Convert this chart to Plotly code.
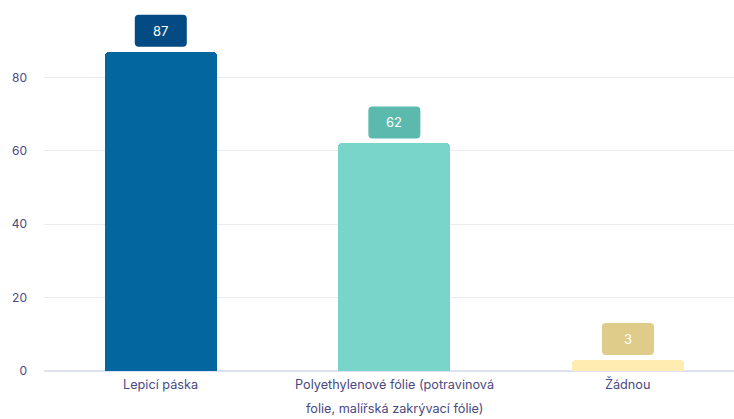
import plotly.graph_objects as go

categories = ["Lepicí páska", "Polyethylenové fólie (potravinová folie, malířská zakrývací fólie)", "Žádnou"]
label_lines = [["Lepicí páska"], ["Polyethylenové fólie (potravinová", "folie, malířská zakrývací fólie)"], ["Žádnou"]]
values = [87, 62, 3]
bar_colors = ["#03669f", "#79d5ca", "#feecb0"]
box_colors = ["#034b82", "#5bb9ad", "#dfcc8a"]
y_ticks = [0, 20, 40, 60, 80]

FONT = "Inter"
TXT = "#4a4a80"

xs = list(range(len(categories)))
fig = go.Figure()
fig.add_trace(go.Bar(
    x=xs, y=values, width=0.48,
    marker=dict(color=bar_colors, line=dict(width=0), cornerradius=4),
    hoverinfo="skip",
))

shapes = []
annotations = []
w, b, t, r = 26, 5, 37, 4
path = (f"M {-w+r} {b} L {w-r} {b} Q {w} {b} {w} {b+r} L {w} {t-r} Q {w} {t} {w-r} {t} "
        f"L {-w+r} {t} Q {-w} {t} {-w} {t-r} L {-w} {b+r} Q {-w} {b} {-w+r} {b} Z")
for i, v in enumerate(values):
    shapes.append(dict(type="path", xref="x", yref="y", xsizemode="pixel", ysizemode="pixel",
                       xanchor=i, yanchor=v, path=path, fillcolor=box_colors[i],
                       line=dict(width=0), layer="above"))
    annotations.append(dict(x=i, y=v, xref="x", yref="y", text=str(v), showarrow=False,
                            yanchor="middle", yshift=(b + t) / 2,
                            font=dict(family=FONT, size=13, color="white")))
    for j, line in enumerate(label_lines[i]):
        annotations.append(dict(x=i, y=0, xref="x", yref="paper", text=line, showarrow=False,
                                yanchor="middle", yshift=-13 - 24 * j,
                                font=dict(family=FONT, size=12.7, color=TXT)))

fig.update_layout(
    width=734, height=419,
    margin=dict(l=44, r=0, t=3.5, b=48),
    paper_bgcolor="white", plot_bgcolor="white",
    showlegend=False,
    bargap=0,
    shapes=shapes,
    annotations=annotations,
    xaxis=dict(range=[-0.5, 2.454], showticklabels=False, showgrid=False, zeroline=False,
               showline=False, ticks=""),
    yaxis=dict(range=[0, 100], tickvals=y_ticks, showgrid=True, gridcolor="#ebebeb", gridwidth=1,
               zeroline=True, zerolinecolor="#dde1f3", zerolinewidth=2, showline=False,
               ticklabelstandoff=16,
               tickfont=dict(family=FONT, size=12, color=TXT)),
)

fig.write_html("out.html")
